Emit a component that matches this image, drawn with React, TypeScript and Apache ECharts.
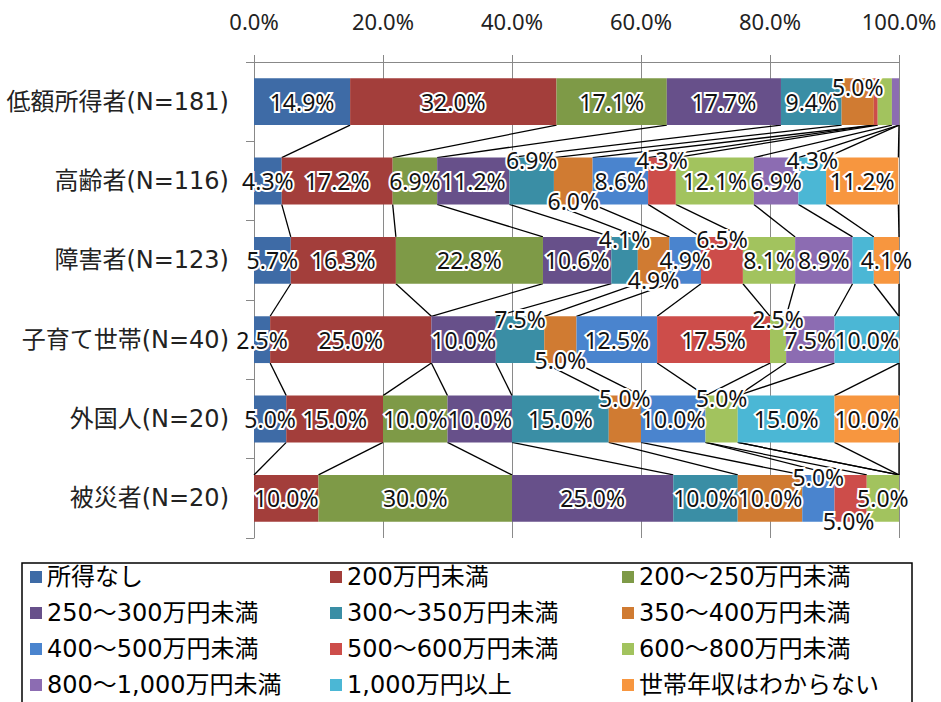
import React, { useEffect, useRef } from 'react';
import * as echarts from 'echarts';

// Respondent groups (rows, top to bottom)
const categories = [
  '低額所得者(N=181)',
  '高齢者(N=116)',
  '障害者(N=123)',
  '子育て世帯(N=40)',
  '外国人(N=20)',
  '被災者(N=20)',
];

// Household income brackets (stack order, left to right)
const seriesNames = [
  '所得なし',
  '200万円未満',
  '200〜250万円未満',
  '250〜300万円未満',
  '300〜350万円未満',
  '350〜400万円未満',
  '400〜500万円未満',
  '500〜600万円未満',
  '600〜800万円未満',
  '800〜1,000万円未満',
  '1,000万円以上',
  '世帯年収はわからない',
];

// Share (%) of each bracket, one value per respondent group
const noIncome = [14.9, 4.3, 5.7, 2.5, 5.0, 0];
const under200 = [32.0, 17.2, 16.3, 25.0, 15.0, 10.0];
const from200to250 = [17.1, 6.9, 22.8, 0, 10.0, 30.0];
const from250to300 = [17.7, 11.2, 10.6, 10.0, 10.0, 25.0];
const from300to350 = [9.4, 6.9, 4.1, 7.5, 15.0, 10.0];
const from350to400 = [5.0, 6.0, 4.9, 5.0, 5.0, 10.0];
const from400to500 = [0, 8.6, 4.9, 12.5, 10.0, 5.0];
const from500to600 = [0.6, 4.3, 6.5, 17.5, 0, 5.0];
const from600to800 = [2.2, 12.1, 8.1, 2.5, 5.0, 5.0];
const from800to1000 = [1.1, 6.9, 8.9, 7.5, 0, 0];
const over1000 = [0, 4.3, 3.3, 10.0, 15.0, 0];
const unknownIncome = [0, 11.2, 4.1, 0, 10.0, 0];

const seriesValues = [
  noIncome, under200, from200to250, from250to300, from300to350, from350to400,
  from400to500, from500to600, from600to800, from800to1000, over1000, unknownIncome,
];

// Percent axis ticks
const axisMin = 0;
const axisMax = 100;
const axisStep = 20;

const colors = [
  '#3E6BA6', '#A33E3B', '#7E9A47', '#67508A', '#3A8EA5', '#D07B32',
  '#4A84CE', '#CD4D4A', '#A2C35E', '#8C6CB2', '#4BB7D5', '#F7963F',
];

// Where each value label sits: c = centre, u = above, t = just over the top edge,
// d = below, D = a little further below, '' = hidden
const labelPlacement: string[][] = [
  ['c', 'c', 'c', 'c', 'c', ''],
  ['c', 'c', 'c', 'c', 'c', 'c'],
  ['c', 'c', 'c', '', 'c', 'c'],
  ['c', 'c', 'c', 'c', 'c', 'c'],
  ['c', 'u', 'u', 'u', 'c', 'c'],
  ['t', 'd', 'd', 'd', 'u', 'c'],
  ['', 'c', 'c', 'c', 'c', 'u'],
  ['', 'u', 'u', 'c', '', 'D'],
  ['', 'c', 'c', 'u', 'u', 'c'],
  ['', 'c', 'c', 'c', '', ''],
  ['', 'u', '', 'c', 'c', ''],
  ['', 'c', 'c', '', 'c', ''],
];

const BAR_RATIO = 0.59;
const FONT_LABEL = '"DejaVu Sans", "Noto Sans CJK JP", sans-serif';
const FONT_NUM = '"Noto Sans", "Noto Sans CJK JP", sans-serif';

function labelFor(place: string) {
  switch (place) {
    case 'c':
      return { show: true, position: 'inside', offset: [0, 0] };
    case 'u':
      return { show: true, position: 'inside', offset: [0, -21] };
    case 't':
      return { show: true, position: 'inside', offset: [0, -15] };
    case 'd':
      return { show: true, position: 'inside', offset: [0, 20] };
    case 'D':
      return { show: true, position: 'inside', offset: [-2, 23] };
    default:
      return { show: false };
  }
}

// Connector ("series line") endpoints between neighbouring bars: cumulative end of each bracket
function buildSeriesLines() {
  const out: number[][] = [];
  for (let r = 0; r < categories.length - 1; r++) {
    let a = 0;
    let b = 0;
    for (let s = 0; s < seriesValues.length; s++) {
      a += seriesValues[s][r];
      b += seriesValues[s][r + 1];
      out.push([Math.min(a, axisMax), r, Math.min(b, axisMax), r + 1]);
    }
  }
  return out;
}

export default function App() {
  const ref = useRef<HTMLDivElement>(null);

  useEffect(() => {
    document.body.style.margin = '0';
    if (!ref.current) return;
    const chart = echarts.init(ref.current, undefined, { renderer: 'svg' });

    const barSeries = seriesNames.map((name, s) => ({
      name,
      type: 'bar',
      stack: 'total',
      barWidth: `${BAR_RATIO * 100}%`,
      itemStyle: { color: colors[s] },
      label: {
        show: true,
        formatter: (p: any) => `${Number(p.value).toFixed(1)}%`,
        color: '#111',
        fontSize: 23,
        fontFamily: FONT_NUM,
        textBorderColor: '#fff',
        textBorderWidth: 4,
      },
      data: seriesValues[s].map((v, r) => ({ value: v, label: labelFor(labelPlacement[s][r]) })),
      z: 3,
    }));

    const connectorSeries = {
      type: 'custom',
      name: 'connectors',
      data: buildSeriesLines(),
      encode: { x: 0, y: 1 },
      z: 2,
      silent: true,
      renderItem: (_params: any, api: any) => {
        const p1 = api.coord([api.value(0), api.value(1)]);
        const p2 = api.coord([api.value(2), api.value(3)]);
        const band = api.size([0, 1])[1];
        const half = (band * BAR_RATIO) / 2;
        return {
          type: 'line',
          shape: { x1: p1[0], y1: p1[1] + half, x2: p2[0], y2: p2[1] - half },
          style: { stroke: '#000', lineWidth: 1.3 },
        };
      },
    };

    const legendColumn = (left: number, names: string[]) => ({
      orient: 'vertical',
      left,
      top: 565,
      padding: 0,
      itemGap: 12,
      itemWidth: 12,
      itemHeight: 12,
      icon: 'rect',
      selectedMode: false,
      textStyle: { fontSize: 24, color: '#000', fontFamily: FONT_LABEL },
      data: names,
    });

    chart.setOption({
      animation: false,
      backgroundColor: '#fff',
      grid: { left: 254, right: 42, top: 62, bottom: 164, outerBoundsMode: 'none' },
      xAxis: {
        type: 'value',
        position: 'top',
        min: axisMin,
        max: axisMax,
        interval: axisStep,
        axisLine: { show: true, lineStyle: { color: '#888', width: 1 } },
        axisTick: { show: true, length: 7, lineStyle: { color: '#888' } },
        splitLine: { show: true, lineStyle: { color: '#8a8a8a', width: 1 } },
        axisLabel: {
          formatter: (v: number) => `${v.toFixed(1)}%`,
          fontSize: 22,
          color: '#222',
          fontFamily: FONT_NUM,
          margin: 30,
        },
      },
      yAxis: {
        type: 'category',
        inverse: true,
        data: categories,
        axisLine: { show: true, lineStyle: { color: '#888', width: 1 } },
        axisTick: { show: true, length: 8, lineStyle: { color: '#888' } },
        axisLabel: { fontSize: 24, color: '#222', fontFamily: FONT_LABEL, margin: 25 },
      },
      legend: [
        legendColumn(30, [seriesNames[0], seriesNames[3], seriesNames[6], seriesNames[9]]),
        legendColumn(330, [seriesNames[1], seriesNames[4], seriesNames[7], seriesNames[10]]),
        legendColumn(622, [seriesNames[2], seriesNames[5], seriesNames[8], seriesNames[11]]),
      ],
      graphic: [
        {
          type: 'rect',
          shape: { x: 22, y: 563, width: 890, height: 160 },
          style: { fill: 'none', stroke: '#000', lineWidth: 1.5 },
          silent: true,
        },
      ],
      series: [connectorSeries, ...barSeries],
    });

    return () => chart.dispose();
  }, []);

  return <div ref={ref} style={{ width: 941, height: 702 }} />;
}
